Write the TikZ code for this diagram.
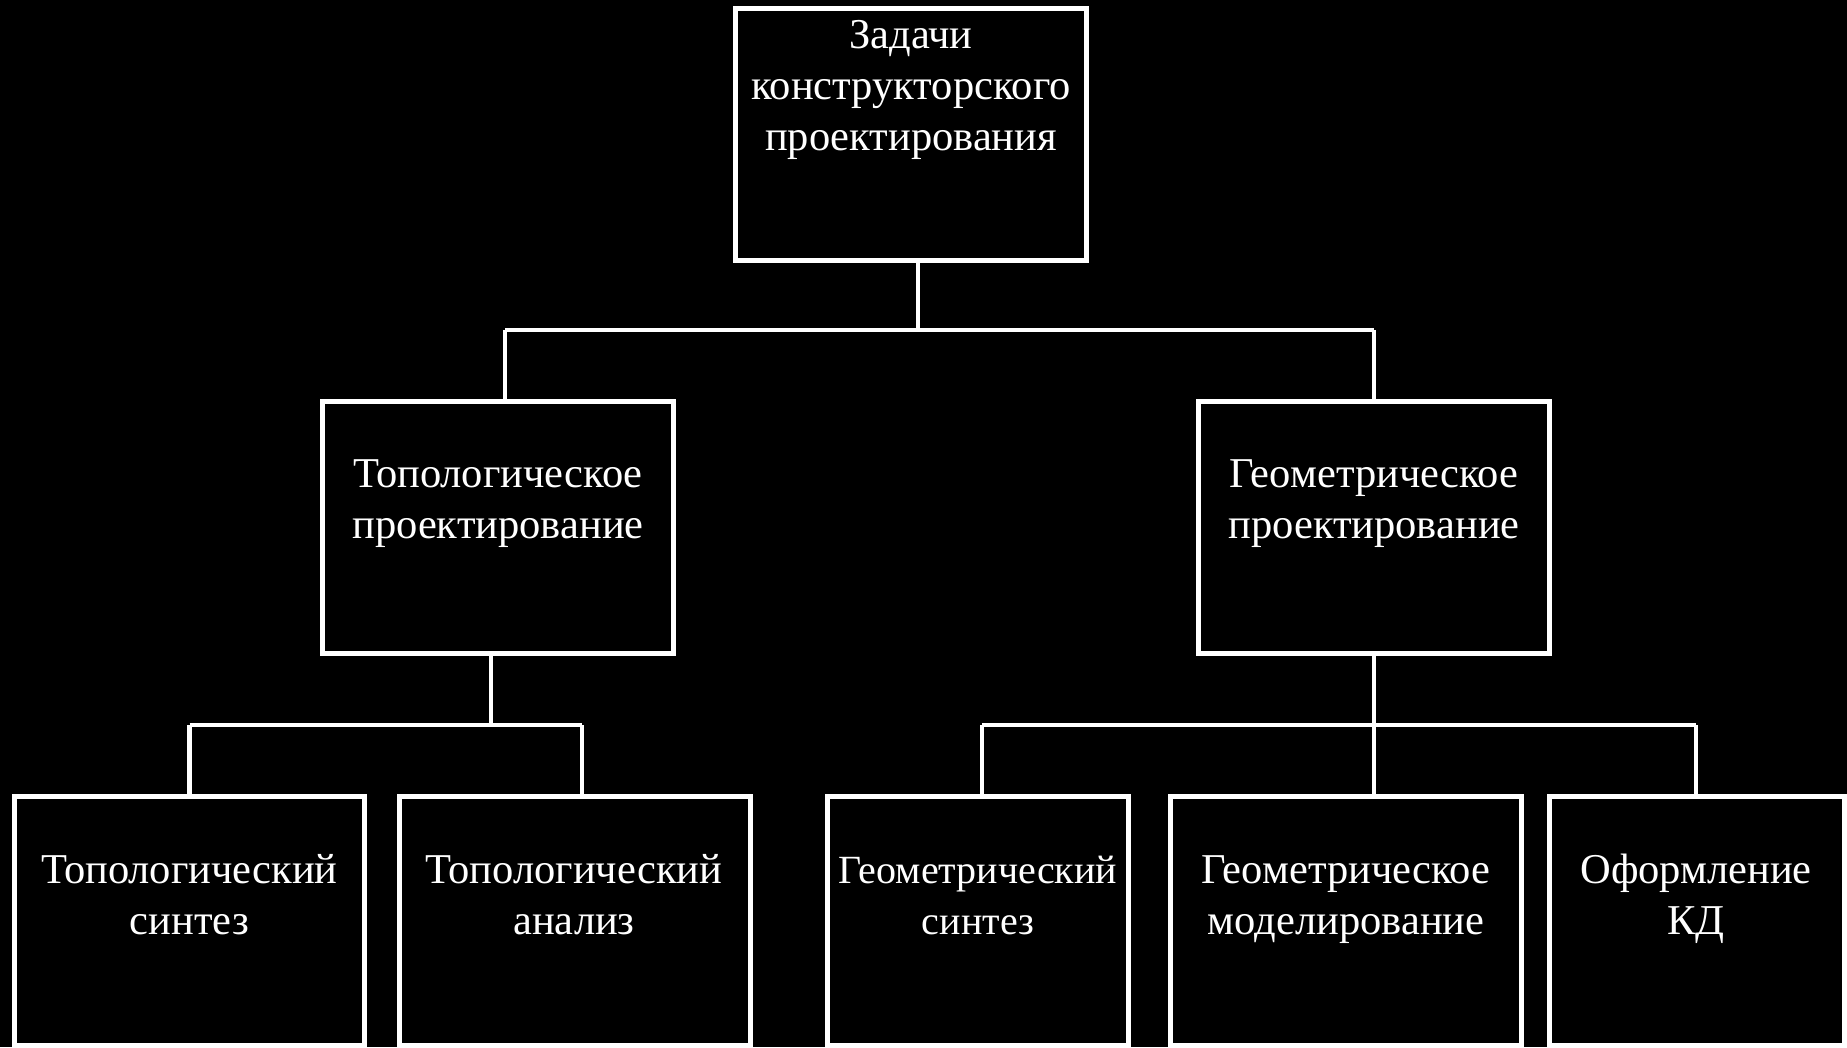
\documentclass[tikz,border=0pt]{standalone}
\usepackage{fontspec}
\setmainfont{Liberation Serif}
\begin{document}
\begin{tikzpicture}[x=1pt,y=1pt,
  box/.style={draw=white,line width=5pt,rectangle,inner sep=0pt,fill=black},
  lbl/.style={text=white,align=center,anchor=base,inner sep=0pt,font=\fontsize{42.5pt}{51pt}\selectfont},
  conn/.style={draw=white,line width=4.3pt}]
\fill[black] (0,0) rectangle (1847,-1047);
\useasboundingbox (0,0) rectangle (1847,-1047);
% boxes
\node[box,minimum width=351pt,minimum height=251.5pt] (top) at (911,-134.25) {};
\node[box,minimum width=351pt,minimum height=252pt] (topo) at (498,-527.5) {};
\node[box,minimum width=351pt,minimum height=252pt] (geo) at (1374,-527.5) {};
\node[box,minimum width=350pt,minimum height=249pt] (b1) at (189.5,-920.5) {};
\node[box,minimum width=351pt,minimum height=249pt] (b2) at (575,-920.5) {};
\node[box,minimum width=301pt,minimum height=249pt] (b3) at (978,-920.5) {};
\node[box,minimum width=351pt,minimum height=249pt] (b4) at (1346,-920.5) {};
\node[box,minimum width=295pt,minimum height=249pt] (b5) at (1697,-920.5) {};
% labels (anchor base = baseline of last line)
\node[lbl] (ttop) at (911,-150) {Задачи\\конструкторского\\проектирования};
\node[lbl] (ttopo) at (498,-538) {Топологическое\\проектирование};
\node[lbl] (tgeo) at (1374,-538) {Геометрическое\\проектирование};
\node[lbl] (tb1) at (189.5,-934) {Топологический\\синтез};
\node[lbl] (tb2) at (574,-934) {Топологический\\анализ};
\node[lbl,font=\fontsize{40pt}{51pt}\selectfont] (tb3) at (978,-934) {Геометрический\\синтез};
\node[lbl] (tb4) at (1346,-934) {Геометрическое\\моделирование};
\node[lbl] (tb5) at (1696,-934) {Оформление\\КД};
% junction coordinates
\coordinate (j0) at (918,-330);
\coordinate (jL) at (505,-330);
\coordinate (jR) at (1374,-330);
\coordinate (k0) at (491,-725);
\coordinate (k1) at (189.5,-725);
\coordinate (k2) at (582,-725);
\coordinate (m0) at (1374,-725);
\coordinate (m3) at (982,-725);
\coordinate (m5) at (1696,-725);
% connectors
\draw[conn] (top.south -| j0) -- (j0);
\draw[conn] (jL) -- (jR);
\draw[conn] (jL) -- (topo.north -| jL);
\draw[conn] (jR) -- (geo.north -| jR);
\draw[conn] (topo.south -| k0) -- (k0);
\draw[conn] (k1) -- (k2);
\draw[conn] (k1) -- (b1.north -| k1);
\draw[conn] (k2) -- (b2.north -| k2);
\draw[conn] (geo.south -| m0) -- (b4.north -| m0);
\draw[conn] (m3) -- (m5);
\draw[conn] (m3) -- (b3.north -| m3);
\draw[conn] (m5) -- (b5.north -| m5);
\end{tikzpicture}
\end{document}
